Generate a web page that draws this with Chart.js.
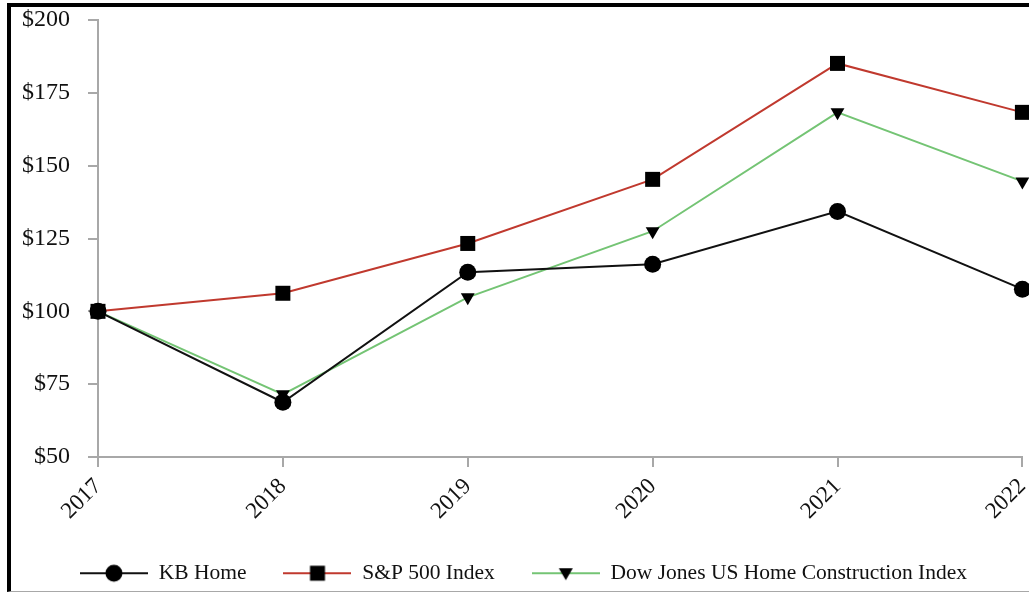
<!DOCTYPE html>
<html>
<head>
<meta charset="utf-8">
<script src="https://cdn.jsdelivr.net/npm/chart.js@4"></script>
<style>
    html, body { margin: 0; padding: 0; background: #fff; overflow: hidden; }
    #frame {
        position: absolute; left: 7px; top: 3px; width: 1100px; height: 584px;
        border-left: 4px solid #000; border-top: 4px solid #000; border-bottom: 1px solid #a8a8a8;
    }
    #myChart { position: absolute; left: 0; top: 0; }
</style>
</head>
<body>
<div id="frame"></div>
<canvas id="myChart" width="1033" height="592"></canvas>
<script>
var years = ["2017", "2018", "2019", "2020", "2021", "2022"];
var kbHome = [100, 68.8, 113.4, 116.2, 134.3, 107.6];
var sp500 = [100, 106.2, 123.3, 145.3, 185.1, 168.3];
var dowJonesHome = [100, 71.5, 104.8, 127.5, 168.3, 144.6];
var yTicks = [50, 75, 100, 125, 150, 175, 200];

document.addEventListener("DOMContentLoaded", function () {
    var font = "Liberation Serif";

    // legend swatch: line with the marker in the middle
    function swatch(color, style) {
        var c = document.createElement("canvas");
        c.width = 68;
        c.height = 20;
        var g = c.getContext("2d");
        g.strokeStyle = color;
        g.lineWidth = 2;
        g.beginPath();
        g.moveTo(0, 10);
        g.lineTo(68, 10);
        g.stroke();
        g.fillStyle = "#000";
        g.beginPath();
        if (style === "circle") {
            g.arc(34, 10, 8.5, 0, Math.PI * 2);
        } else if (style === "rect") {
            g.rect(26.5, 2.5, 15, 15);
        } else {
            g.moveTo(27, 5);
            g.lineTo(41, 5);
            g.lineTo(34, 17);
            g.closePath();
        }
        g.fill();
        return c;
    }

    var datasets = [
        { label: "KB Home", data: kbHome, borderColor: "#111111", pointStyle: "circle", pointRadius: 8.5, pointRotation: 0, icon: swatch("#111111", "circle") },
        { label: "S&P 500 Index", data: sp500, borderColor: "#c0392e", pointStyle: "rect", pointRadius: 10.6, pointRotation: 0, icon: swatch("#c0392e", "rect") },
        { label: "Dow Jones US Home Construction Index", data: dowJonesHome, borderColor: "#74c474", pointStyle: "triangle", pointRadius: 8, pointRotation: 180, icon: swatch("#74c474", "triangle") }
    ];
    datasets.forEach(function (d) {
        d.borderWidth = 2;
        d.pointBackgroundColor = "#000";
        d.pointBorderColor = "#000";
        d.pointBorderWidth = 0;
        d.pointHoverRadius = d.pointRadius;
        d.tension = 0;
        d.clip = false;
        d.fill = false;
    });

    var ctx = document.getElementById("myChart").getContext("2d");
    var myChart = new Chart(ctx, {
        type: "line",
        data: { labels: years, datasets: datasets },
        options: {
            responsive: false,
            animation: false,
            layout: { padding: { left: 16, right: 2, top: 20, bottom: -2 } },
            plugins: {
                tooltip: { enabled: false },
                legend: {
                    position: "bottom",
                    labels: {
                        usePointStyle: true,
                        pointStyleWidth: 68,
                        padding: 37,
                        color: "#111",
                        font: { family: font, size: 21.5 },
                        generateLabels: function (chart) {
                            return chart.data.datasets.map(function (d, i) {
                                return {
                                    text: d.label,
                                    pointStyle: d.icon,
                                    rotation: 0,
                                    fillStyle: "#000",
                                    strokeStyle: "#000",
                                    lineWidth: 0,
                                    fontColor: "#111",
                                    hidden: false,
                                    datasetIndex: i
                                };
                            });
                        }
                    }
                }
            },
            scales: {
                x: {
                    offset: false,
                    grid: { drawOnChartArea: false, drawTicks: true, tickLength: 10, color: "#a8a8a8", lineWidth: 2 },
                    border: { color: "#a8a8a8", width: 2 },
                    ticks: {
                        autoSkip: false, minRotation: 45, maxRotation: 45, padding: 6,
                        color: "#111", font: { family: font, size: 23 }
                    },
                    afterFit: function (scale) {
                        scale.height = 68.5;
                        scale.paddingLeft = 0;
                        scale.paddingRight = 0;
                    }
                },
                y: {
                    min: 50,
                    max: 200,
                    afterBuildTicks: function (scale) {
                        scale.ticks = yTicks.map(function (v) { return { value: v }; });
                    },
                    grid: { drawOnChartArea: false, drawTicks: true, tickLength: 10, color: "#a8a8a8", lineWidth: 2 },
                    border: { color: "#a8a8a8", width: 2 },
                    ticks: {
                        padding: 18, color: "#111", font: { family: font, size: 24 },
                        callback: function (v) { return "$" + v; }
                    },
                    afterFit: function (scale) {
                        scale.width = 82;
                        scale.paddingTop = 0;
                        scale.paddingBottom = 0;
                    }
                }
            }
        }
    });
});
</script>
</body>
</html>
